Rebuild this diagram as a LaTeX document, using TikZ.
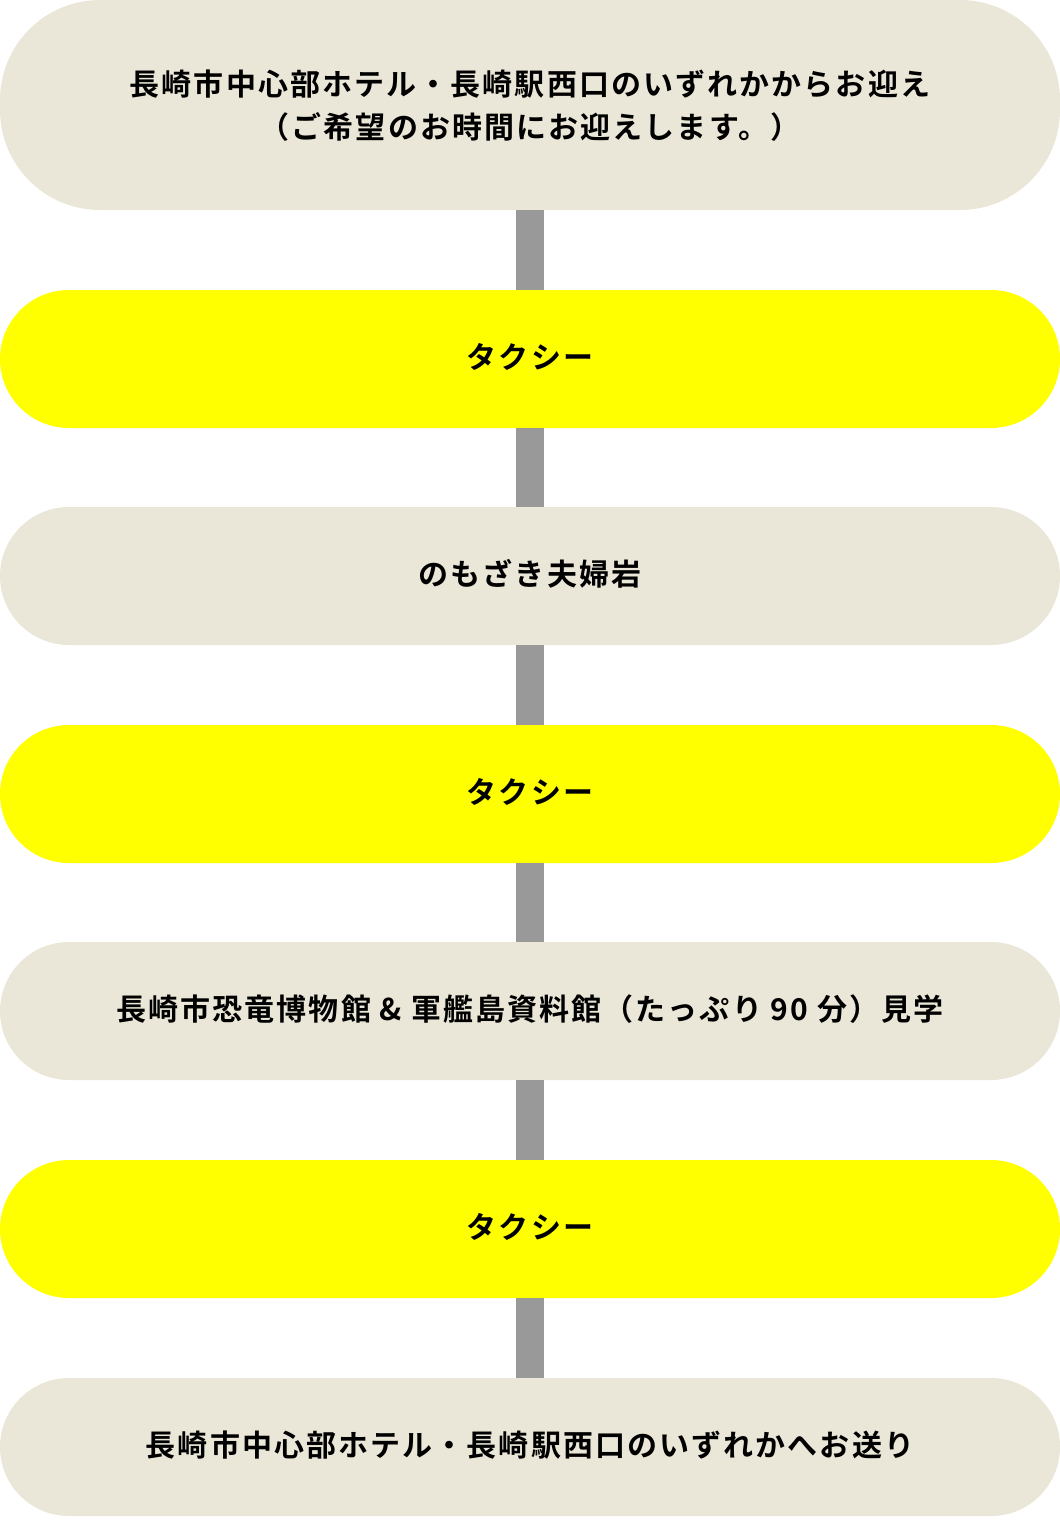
\documentclass[tikz,border=0pt]{standalone}
\usepackage{fontspec}
\newfontfamily\jpfont[LetterSpace=7,BoldFont={Noto Sans CJK JP Bold}]{Noto Sans CJK JP}
\definecolor{stopbeige}{HTML}{EBE7D8}
\definecolor{taxiyellow}{HTML}{FFFF00}
\definecolor{linkgray}{HTML}{999999}
\begin{document}
\begin{tikzpicture}[x=1pt,y=-1pt,
  stop/.style={fill=stopbeige,rounded corners=69pt,minimum width=1060pt,minimum height=138pt,inner sep=0,outer sep=0,text depth=7pt,align=center,font=\jpfont\bfseries\fontsize{30}{43}\selectfont},
  taxi/.style={stop,fill=taxiyellow},
  link/.style={draw=linkgray,line width=28pt}]
\useasboundingbox (0,0) rectangle (1060,1526);
\node[stop,rounded corners=100pt,minimum height=210pt,text depth=2pt] (pickup) at (530,105) {長崎市中心部ホテル・長崎駅西口のいずれかからお迎え\\（ご希望のお時間にお迎えします。）};
\node[taxi] (taxi1) at (530,359) {タクシー};
\node[stop] (rocks) at (530,576) {のもざき夫婦岩};
\node[taxi] (taxi2) at (530,794) {タクシー};
\node[stop] (museum) at (530,1011) {長崎市恐竜博物館 \& 軍艦島資料館（たっぷり 90 分）見学};
\node[taxi] (taxi3) at (530,1229) {タクシー};
\node[stop] (dropoff) at (530,1447) {長崎市中心部ホテル・長崎駅西口のいずれかへお送り};
\draw[link] (pickup) -- (taxi1);
\draw[link] (taxi1) -- (rocks);
\draw[link] (rocks) -- (taxi2);
\draw[link] (taxi2) -- (museum);
\draw[link] (museum) -- (taxi3);
\draw[link] (taxi3) -- (dropoff);
\end{tikzpicture}
\end{document}
